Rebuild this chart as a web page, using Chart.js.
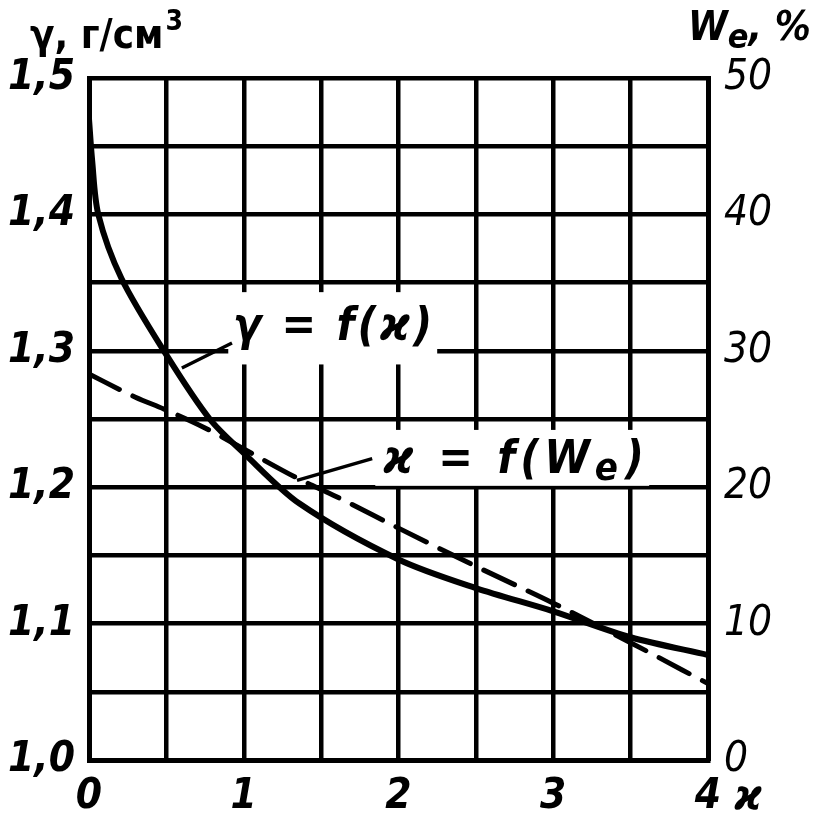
<!DOCTYPE html>
<html>
<head>
<meta charset="utf-8">
<script src="https://cdn.jsdelivr.net/npm/chart.js@4.4.1/dist/chart.umd.min.js"></script>
<style>
  html, body { margin: 0; padding: 0; background: #fff; }
  #wrap { width: 828px; height: 823px; }
</style>
</head>
<body>
<div id="wrap"><canvas id="chart" width="828" height="823"></canvas></div>
<script>
// solid curve: gamma = f(kappa), left axis
const kappaGamma = [0, 0.02, 0.06, 0.21, 0.5, 0.78, 1, 1.36, 2, 2.5, 3, 3.5, 4];
const gamma = [1.47, 1.44, 1.40, 1.353, 1.297, 1.25, 1.225, 1.188, 1.147, 1.126, 1.109, 1.09, 1.077];
// dashed curve: kappa = f(We), right axis
const kappaWe = [0, 0.3, 0.49, 0.74, 1, 1.34, 1.6, 2, 2.5, 3, 3.5, 4];
const we = [28.3, 26.6, 25.7, 24.4, 22.8, 20.7, 19.3, 17.0, 14.2, 11.5, 8.6, 5.6];

const xTickLabels = [0, 1, 2, 3, 4];
const leftTickLabels = [1.0, 1.1, 1.2, 1.3, 1.4, 1.5];
const rightTickLabels = [0, 10, 20, 30, 40, 50];

const numFont = "'DejaVu Sans Condensed', 'DejaVu Sans', sans-serif";
const ink = "#000";

function toPoints(xs, ys) {
	return xs.map((x, i) => ({ x: x, y: ys[i] }));
}

// labels on the plot, placed in data units
const labelsPlugin = {
	id: "labels",
	beforeDatasetsDraw(chart) {
		const { ctx, scales } = chart;
		const x = scales.x, y = scales.y, y1 = scales.y1;
		ctx.save();
		ctx.fillStyle = "#fff";
		// white gaps behind the curve names
		let l = x.getPixelForValue(0.9), r = x.getPixelForValue(2.25);
		let t = y.getPixelForValue(1.343), b = y.getPixelForValue(1.29);
		ctx.fillRect(l, t, r - l, b - t);
		l = x.getPixelForValue(1.85); r = x.getPixelForValue(3.62);
		t = y1.getPixelForValue(24.2); b = y1.getPixelForValue(20.1);
		ctx.fillRect(l, t, r - l, b - t);
		ctx.restore();
	},
	afterDatasetsDraw(chart) {
		const { ctx, scales } = chart;
		const x = scales.x, y = scales.y, y1 = scales.y1;
		ctx.save();
		ctx.strokeStyle = ink;
		ctx.fillStyle = ink;
		ctx.lineWidth = 3.5;
		// leader lines
		ctx.beginPath();
		ctx.moveTo(x.getPixelForValue(0.6), y.getPixelForValue(1.2874));
		ctx.lineTo(x.getPixelForValue(0.924), y.getPixelForValue(1.3057));
		ctx.moveTo(x.getPixelForValue(1.344), y1.getPixelForValue(20.5));
		ctx.lineTo(x.getPixelForValue(1.83), y1.getPixelForValue(22.1));
		ctx.stroke();

		ctx.textBaseline = "middle";
		ctx.textAlign = "left";
		ctx.letterSpacing = "3px";
		ctx.font = "italic bold 46px " + numFont;
		ctx.fillText("γ = f(ϰ)", x.getPixelForValue(0.93), y.getPixelForValue(1.317));

		ctx.letterSpacing = "5px";
		let px = x.getPixelForValue(1.9), py = y1.getPixelForValue(21.9);
		ctx.fillText("ϰ = f(W", px, py);
		px += ctx.measureText("ϰ = f(W").width;
		ctx.font = "italic bold 38px " + numFont;
		ctx.fillText("e", px, py + 9);
		px += ctx.measureText("e").width;
		ctx.font = "italic bold 46px " + numFont;
		ctx.fillText(")", px + 2, py);
		ctx.letterSpacing = "0px";

		// axis titles
		ctx.textBaseline = "alphabetic";
		ctx.font = "bold 40px " + numFont;
		ctx.fillText("γ, г/см", 30, 48);
		let w = ctx.measureText("γ, г/см").width;
		ctx.font = "bold 28px " + numFont;
		ctx.fillText("3", 30 + w + 2, 30);

		ctx.font = "italic bold 40px " + numFont;
		ctx.fillText("W", 688, 40);
		w = ctx.measureText("W").width;
		ctx.font = "italic bold 34px " + numFont;
		ctx.fillText("e", 688 + w, 48);
		let w2 = ctx.measureText("e").width;
		ctx.font = "italic bold 40px " + numFont;
		ctx.fillText(", %", 688 + w + w2, 40);

		// kappa at the end of the x axis
		ctx.textAlign = "left";
		ctx.textBaseline = "top";
		ctx.font = "italic bold 42px " + numFont;
		ctx.fillText("ϰ", x.right + 26, y.bottom + 18);
		ctx.restore();
	},
};

new Chart(document.getElementById("chart"), {
	type: "scatter",
	data: {
		datasets: [
			{
				label: "γ = f(ϰ)",
				data: toPoints(kappaGamma, gamma),
				yAxisID: "y",
				showLine: true,
				borderColor: ink,
				borderWidth: 6,
				pointRadius: 0,
				tension: 0.3,
				borderCapStyle: "round",
			},
			{
				label: "ϰ = f(We)",
				data: toPoints(kappaWe, we),
				yAxisID: "y1",
				showLine: true,
				borderColor: ink,
				borderWidth: 5,
				borderDash: [34, 15],
				pointRadius: 0,
				cubicInterpolationMode: "monotone",
				borderCapStyle: "round",
			},
		],
	},
	plugins: [labelsPlugin],
	options: {
		responsive: false,
		animation: false,
		layout: { padding: { top: 78, left: 0, right: 0, bottom: 0 } },
		plugins: {
			legend: { display: false },
			tooltip: { enabled: false },
		},
		scales: {
			x: {
				type: "linear",
				min: 0,
				max: 4,
				ticks: {
					stepSize: 0.5,
					color: ink,
					padding: 12,
					font: { family: numFont, size: 42, style: "italic", weight: "bold" },
					callback: (v) => (xTickLabels.includes(v) ? String(v) : ""),
					maxRotation: 0,
					autoSkip: false,
				},
				grid: { color: ink, lineWidth: 4.5, drawTicks: false },
				border: { color: ink, width: 5 },
				afterFit: (s) => { s.height = 63; },
			},
			y: {
				position: "left",
				min: 1.0,
				max: 1.5,
				ticks: {
					stepSize: 0.05,
					color: ink,
					padding: 14,
					font: { family: numFont, size: 42, style: "italic", weight: "bold" },
					callback: (v) => {
						const lab = leftTickLabels.find((t) => Math.abs(t - v) < 1e-6);
						return lab === undefined ? "" : lab.toFixed(1).replace(".", ",");
					},
					autoSkip: false,
				},
				grid: { color: ink, lineWidth: 4.5, drawTicks: false },
				border: { color: ink, width: 5 },
				afterFit: (s) => { s.width = 89; },
			},
			y1: {
				position: "right",
				min: 0,
				max: 50,
				ticks: {
					stepSize: 10,
					color: ink,
					padding: 16,
					font: { family: numFont, size: 42, style: "italic" },
					callback: (v) => (rightTickLabels.includes(v) ? String(v) : ""),
				},
				grid: { display: false, drawTicks: false },
				border: { color: ink, width: 5 },
				afterFit: (s) => { s.width = 120; },
			},
		},
	},
});
</script>
</body>
</html>
